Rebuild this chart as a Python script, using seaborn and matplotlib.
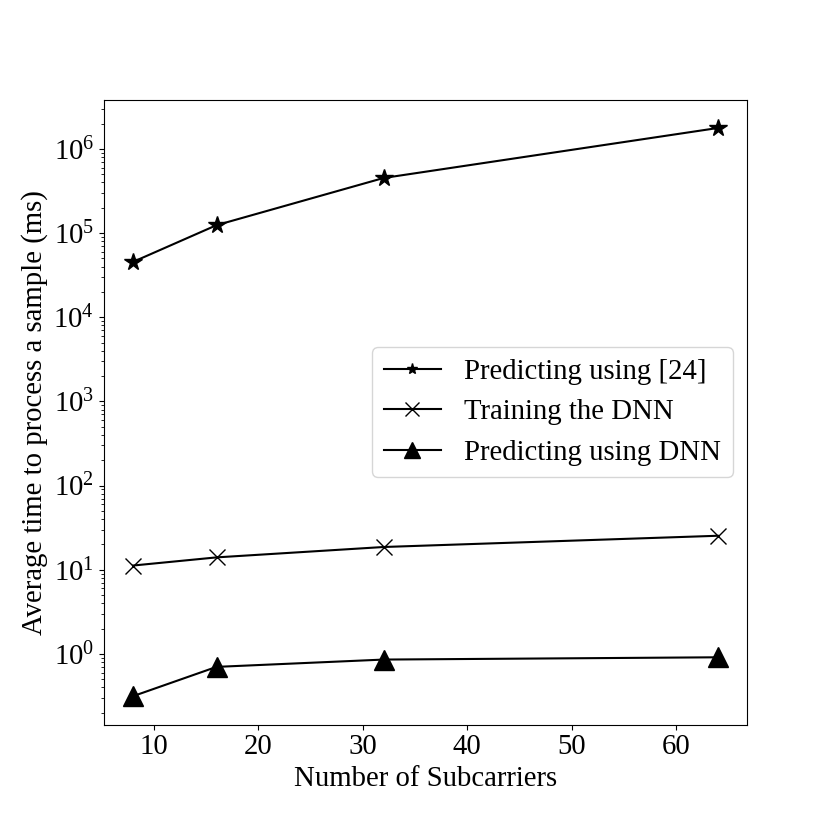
import matplotlib
matplotlib.use("Agg")
import matplotlib.pyplot as plt
import seaborn as sns
import pandas as pd

# data
subcarriers = [8, 16, 32, 64]
pred_ref24 = [45400, 124000, 451000, 1770000]
train_dnn = [11.2, 14.0, 18.6, 25.3]
pred_dnn = [0.314, 0.70, 0.855, 0.91]

labels = ["Predicting using [24]", "Training the DNN", "Predicting using DNN"]
markers = ["*", "x", "^"]
sizes = [13, 11.5, 14]
legend_sizes = [8, 9.5, 12]

plt.rcParams["font.family"] = ["Liberation Serif", "DejaVu Serif"]
plt.rcParams["mathtext.fontset"] = "stix"

fs = 20.7

fig, ax = plt.subplots(figsize=(8.3, 8.3), dpi=100)
fig.subplots_adjust(left=0.125, right=0.9, top=0.88, bottom=0.127)

for vals, lab, m, s in zip([pred_ref24, train_dnn, pred_dnn], labels, markers, sizes):
    df = pd.DataFrame({"n": subcarriers, "t": vals})
    sns.lineplot(data=df, x="n", y="t", ax=ax, color="black", marker=m,
                 markersize=s, markeredgecolor="black", markeredgewidth=1.0,
                 linewidth=1.5, label=lab)

ax.set_yscale("log")
ax.set_xlabel("Number of Subcarriers", fontsize=fs)
ax.set_ylabel("Average time to process a sample (ms)", fontsize=fs)
ax.tick_params(labelsize=fs)
leg = ax.legend(loc="center right", fontsize=fs)
for h, s in zip(leg.legend_handles, legend_sizes):
    h.set_markersize(s)

plt.savefig("out.png", dpi=100)
